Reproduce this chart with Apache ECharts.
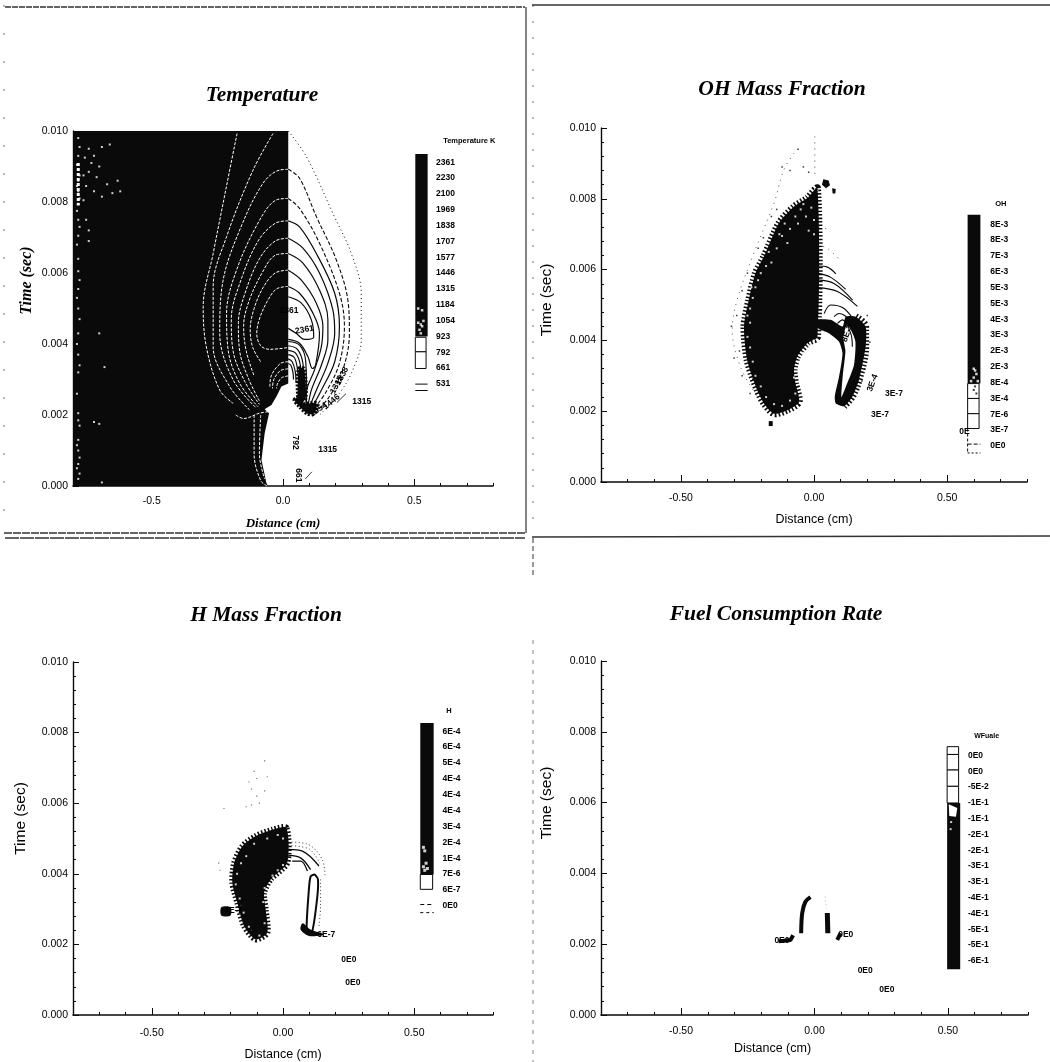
<!DOCTYPE html>
<html><head><meta charset="utf-8">
<style>html,body{margin:0;padding:0;background:#fff}#c{width:1050px;height:1062px;filter:blur(.4px)}</style>
<script src="https://cdn.jsdelivr.net/npm/echarts@6/dist/echarts.min.js"></script>
</head><body><div id="c"></div>
<script>
// ---------- chart text ----------
const titles = ['Temperature','OH Mass Fraction','H Mass Fraction','Fuel Consumption Rate'];
const xMajor = [-0.5,0,0.5];
const xMinor = [-0.8,-0.7,-0.6,-0.4,-0.3,-0.2,-0.1,0.1,0.2,0.3,0.4,0.6,0.7,0.8];
const tempLevels = ['2361','2230','2100','1969','1838','1707','1577','1446','1315','1184','1054','923','792','661','531'];
const ohLevels = ['8E-3','8E-3','7E-3','6E-3','5E-3','5E-3','4E-3','3E-3','2E-3','2E-3','8E-4','3E-4','7E-6','3E-7','0E0'];
const hLevels = ['6E-4','6E-4','5E-4','4E-4','4E-4','4E-4','3E-4','2E-4','1E-4','7E-6','6E-7','0E0'];
const fuelLevels = ['0E0','0E0','-5E-2','-1E-1','-1E-1','-2E-1','-2E-1','-3E-1','-3E-1','-4E-1','-4E-1','-5E-1','-5E-1','-6E-1'];

// ---------- Temperature panel: [distance cm, time ms] ----------
const tempFill = [[-.8,0],[-.8,10],[.02,10],[.02,2.89],[-.006,2.8],[-.025,2.52],[-.044,2.28],[-.07,2.16],[-.053,2.05],[-.07,1.48],[-.082,.73],[-.063,.08],[-.057,0]];
const tempOuter = [[.02,10],[.089,9.28],[.19,7.68],[.26,6.55],[.298,5.43],[.298,4.11],[.266,3.27],[.215,2.61],[.139,2]];
const tempDashed = [
 [[.02,8.92],[.063,8.67],[.127,7.59],[.203,6.37],[.247,5.24],[.253,4.3],[.228,3.27],[.177,2.52],[.127,2.09]],
 [[.02,8.1],[.063,7.82],[.139,6.84],[.215,5.43],[.234,4.49],[.215,3.46],[.165,2.66],[.114,2.14]]
];
const tempSolid = [
 [[.02,7.47],[.063,7.3],[.127,6.55],[.197,5.43],[.215,4.49],[.197,3.5],[.146,2.7],[.108,2.18]],
 [[.02,6.98],[.076,6.7],[.139,6],[.19,4.96],[.197,4.3],[.171,3.46],[.127,2.7],[.101,2.23]],
 [[.02,6.55],[.076,6.28],[.139,5.52],[.171,4.68],[.171,4.11],[.146,3.4],[.108,2.7],[.095,2.23]],
 [[.02,6.08],[.07,5.8],[.127,5.15],[.152,4.49],[.146,3.92],[.12,3.27],[.089,2.61],[.089,2.23]],
 [[.02,5.62],[.063,5.43],[.114,4.87],[.139,4.3],[.124,3.4],[.112,3.31],[.095,3.64],[.063,4.02],[.02,4.13]],
 [[.02,5.33],[.07,5.15],[.108,4.68],[.117,4.2],[.082,4.13],[.05,4.3],[.02,4.44]],
 [[.02,4.07],[.063,3.97],[.086,3.55],[.089,2.89],[.082,2.42]],
 [[.02,3.95],[.055,3.85],[.076,3.45],[.08,2.85],[.076,2.42]],
 [[.02,3.82],[.048,3.74],[.066,3.4],[.07,2.85],[.068,2.45]],
 [[.02,3.7],[.043,3.62],[.055,3.3],[.06,2.85],[.056,2.5]],
 [[.02,3.58],[.035,3.5],[.046,3.25],[.05,2.9]],
 [[.02,3.45],[.03,3.4],[.038,3.2],[.04,3]]
];
const tempWhite = [
 [[-.175,9.93],[-.203,8.9],[-.266,6.55],[-.304,5.05],[-.292,3.92],[-.241,2.7],[-.19,2.33]],
 [[-.038,9.93],[-.114,8.9],[-.215,7.02],[-.266,5.62],[-.266,3.92],[-.203,2.8],[-.127,2.14]],
 [[.02,8.92],[-.013,8.9],[-.076,8.53],[-.165,7.21],[-.228,5.8],[-.241,4.3],[-.19,2.99],[-.101,2.19]],
 [[.02,8.1],[-.025,8.06],[-.089,7.49],[-.177,6.08],[-.215,4.86],[-.209,3.83],[-.165,2.89],[-.095,2.23]],
 [[.02,7.47],[-.03,7.4],[-.095,6.9],[-.165,5.7],[-.197,4.7],[-.19,3.8],[-.146,2.95],[-.09,2.3]],
 [[.02,6.98],[-.03,6.9],[-.09,6.4],[-.146,5.4],[-.17,4.6],[-.165,3.8],[-.13,3],[-.09,2.4]],
 [[.02,6.55],[-.03,6.5],[-.08,6],[-.13,5.2],[-.15,4.5],[-.14,3.8],[-.11,3.1]],
 [[.02,6.08],[-.03,6],[-.075,5.6],[-.11,5],[-.125,4.4],[-.115,3.9],[-.085,3.5]],
 [[.02,5.62],[-.025,5.55],[-.06,5.2],[-.09,4.7],[-.1,4.3],[-.085,3.95],[-.05,3.85],[.02,3.9]],
 [[.02,3.5],[-.01,3.45],[-.045,3.1],[-.05,2.8]],
 [[.02,3.3],[-.01,3.25],[-.035,3],[-.04,2.75]],
 [[.02,3.1],[-.005,3.05],[-.02,2.9],[-.025,2.75]],
 [[-.11,2],[-.11,.9],[-.085,.15],[-.06,0]],
 [[-.085,2],[-.09,.9],[-.07,.2]],
 [[-.18,2],[-.15,1.9],[-.09,2.05],[-.05,2.1]]
];
const tempBlobs = [
 [[.044,2.42],[.063,2.52],[.082,2.33],[.127,2.33],[.12,2.05],[.095,2.03],[.063,2.24]],
 [[.06,3.3],[.08,3.3],[.085,2.45],[.06,2.45]]
];
const tempBand = [[-.78,9.1],[-.78,7.9]];
const tempTicksShort = [[[.205,2.35],[.24,2.6]],[[.085,.2],[.11,.4]]];
const tempSpecks = [[-.78,.2],[-.775,.35],[-.785,.5],[-.78,.62],[-.775,.8],[-.78,1],[-.785,1.15],[-.78,1.3],[-.775,1.7],[-.78,1.85],[-.78,2.05],[-.785,2.6],[-.78,3.2],[-.775,3.4],[-.78,3.7],[-.785,4],[-.78,4.3],[-.775,4.7],[-.78,5],[-.785,5.3],[-.78,5.55],[-.775,5.8],[-.78,6.05],[-.78,6.4],[-.785,6.8],[-.78,7.05],[-.775,7.3],[-.78,7.5],[-.785,7.75],[-.78,7.95],[-.775,8.1],[-.78,8.3],[-.785,8.45],[-.78,8.6],[-.775,8.75],[-.78,8.9],[-.785,9.05],[-.78,9.3],[-.775,9.55],[-.78,9.8],[-.74,9.5],[-.72,9.3],[-.69,9.55],[-.66,9.62],[-.7,9],[-.74,8.85],[-.71,8.7],[-.67,8.5],[-.75,8.45],[-.72,8.3],[-.65,8.25],[-.69,8.15],[-.76,8.05],[-.62,8.3],[-.63,8.6],[-.75,7.5],[-.74,7.2],[-.74,6.9],[-.7,4.3],[-.69,.1],[-.72,1.8],[-.7,1.75],[-.68,3.35],[-.73,9.1],[-.755,9.25],[-.76,8.75]];
const tempLabels = [[.023,4.93,'2361',0],[.082,4.4,'2361',-10],[.3,2.37,'1315',0],[.17,1.03,'1315',0],[.048,1.22,'792',90],[.06,.3,'661',90],[.225,3.1,'1838',-62],[.185,2.37,'1446',-40],[.135,2.15,'1054',-35],[.205,2.85,'1315',-62]];

// ---------- OH panel ----------
const ohFill = [[.013,8.3],[-.025,8.02],[-.075,7.78],[-.132,7.31],[-.188,6.37],[-.22,5.9],[-.245,5.14],[-.263,4.39],[-.251,3.44],[-.213,2.59],[-.188,2.22],[-.15,1.93],[-.1,2.03],[-.056,2.26],[-.069,2.78],[-.075,3.16],[-.063,3.54],[-.025,3.92],[.013,4.1]];
const ohBand = [[.157,4.67],[.194,4.39],[.194,3.82],[.169,2.88],[.144,2.41],[.113,2.14],[.082,2.22],[.078,2.41],[.094,2.97],[.107,3.63],[.094,3.96],[.056,4.2],[.015,4.34],[.015,4.58],[.063,4.58],[.107,4.39],[.119,4.67]];
const ohBandEdge = [[.157,4.67],[.194,4.39],[.194,3.82],[.169,2.88],[.144,2.41],[.113,2.14]];
const ohCrescent = [[.125,4.45],[.155,4],[.15,3.3],[.12,2.7],[.103,2.4],[.108,3],[.118,3.7],[.11,4.1]];
const ohArcs = [
 [[.013,6.1],[.05,6.07],[.082,5.88]],
 [[.013,5.9],[.063,5.78],[.119,5.44]],
 [[.013,5.71],[.075,5.61],[.145,5.14]],
 [[.013,5.49],[.088,5.38],[.163,4.96]],
 [[.038,4.76],[.063,5],[.113,4.9],[.157,4.48]],
 [[.075,4.67],[.094,4.76],[.132,4.58],[.157,4]],
 [[.088,4.48],[.107,4.58],[.138,4.2],[.144,3.82]]
];
const ohDotted = [
 [[.013,6.7],[.05,6.6],[.094,6.3]],
 [[.02,7.2],[.05,7.15]],
 [[.003,9.76],[.003,8.6]],
 [[-.075,9.29],[-.113,8.82],[-.15,7.88],[-.226,6.46],[-.289,5.14],[-.307,4.29],[-.276,3.25],[-.213,2.41]]
];
const ohBlobs = [[[.035,8.55],[.055,8.52],[.06,8.38],[.045,8.3],[.03,8.4]],[[.068,8.3],[.082,8.28],[.08,8.15],[.07,8.15]],[[-.17,1.72],[-.155,1.72],[-.155,1.58],[-.17,1.58]]];
const ohSpecks = [[-.05,7.7],[-.03,7.5],[-.01,7.75],[0,7.4],[-.06,7.3],[-.09,7.15],[-.12,6.95],[-.1,6.75],[-.14,6.6],[-.16,6.2],[-.18,6.1],[-.2,5.9],[-.22,5.5],[-.23,5.2],[-.24,4.9],[-.24,4.5],[-.25,4.1],[-.24,3.8],[-.23,3.4],[-.22,3],[-.2,2.7],[-.18,2.4],[-.15,2.2],[-.12,2.15],[-.09,2.3],[-.07,2.5],[-.075,2.95],[-.06,3.4],[-.04,3.65],[-.02,3.85],[0,4],[0,7],[-.02,7.1],[-.04,7.85],[-.07,7.5],[-.11,7.3],[-.13,7],[-.17,6.5],[-.2,6.3],[-.21,5.7],[-.235,5.5],[-.25,4.7]];
const ohHaze = [[-.12,8.9],[-.09,8.8],[-.06,9.4],[-.04,8.9],[-.02,8.75],[-.16,7.5],[-.14,7.7],[-.19,6.9],[-.21,6.6],[-.25,5.9],[-.27,5.4],[-.29,4.7],[-.31,4.4],[-.28,3.7],[-.27,3],[-.23,2.9],[-.24,2.5],[.2,4.7],[.21,3.95],[.19,3.2],[.18,2.85],[-.3,3.5]];
const ohLabels = [[.3,2.5,'3E-7',0],[.248,1.9,'3E-7',0],[.22,2.8,'3E-4',-70],[.125,4.2,'8E-3',-70],[.565,1.42,'0E',0]];

// ---------- H panel ----------
const hFill = [[.013,5.3],[-.04,5.25],[-.104,5.07],[-.155,4.78],[-.186,4.31],[-.193,3.75],[-.174,3.18],[-.148,2.52],[-.104,2.14],[-.06,2.33],[-.066,2.99],[-.072,3.46],[-.047,3.84],[.016,4.31]];
const hLoop = [[.09,2.33],[.098,3.5],[.105,3.92],[.12,3.98],[.133,3.85],[.13,3.3],[.11,2.33]];
const hBlobs = [[[.067,2.42],[.099,2.24],[.156,2.28],[.105,2.42],[.075,2.6]],[[-.235,3.05],[-.2,3.05],[-.2,2.82],[-.235,2.82]]];
const hArcs = [[[.02,4.69],[.074,4.64],[.137,4.22]],[[.02,4.52],[.067,4.45],[.105,4.12]],[[.035,4.36],[.067,4.36],[.093,4.08]]];
const hDotted = [[[.02,4.9],[.09,4.85],[.15,4.4],[.16,3.9]],[[.143,3.84],[.143,3.08],[.137,2.52]],[[.02,4.8],[.1,4.7],[.14,4.3]]];
const hSpecks = [[-.02,5.1],[0,5],[-.06,5],[-.11,4.85],[-.14,4.5],[-.16,4.3],[-.175,4],[-.18,3.7],[-.165,3.3],[-.15,2.9],[-.13,2.5],[-.09,2.25],[-.07,2.6],[-.075,3.2],[-.07,3.6],[-.04,3.95],[-.02,4.1],[0,4.25]];
const hHaze = [[-.07,7.2],[-.11,6.9],[-.13,6.6],[-.12,6.4],[-.1,6.7],[-.06,6.75],[-.1,6.2],[-.09,6],[-.12,5.95],[-.225,5.85],[-.245,4.3],[-.24,4.1],[-.14,5.9],[-.07,6.35],[-.16,3.1],[-.12,2.4]];
const hLabels = [[-.19,2.95,'6E-7',0],[.165,2.28,'6E-7',0],[.251,1.56,'0E0',0],[.266,.92,'0E0',0]];

// ---------- Fuel panel ----------
const fuelLeftArc = [[-.05,2.31],[-.046,2.88],[-.034,3.2],[-.015,3.33]];
const fuelRightBar = [[.048,2.88],[.05,2.31]];
const fuelWings = [[[.085,2.12],[.098,2.31]],[[-.135,2.08],[-.09,2.12],[-.08,2.25]]];
const fuelFaint = [[.04,3.35],[.045,3.0]];
const fuelLabels = [[-.122,2.1,'0E0',0],[.117,2.28,'0E0',0],[.19,1.25,'0E0',0],[.271,.71,'0E0',0]];

// ---------- helpers ----------
const INK = '#0a0a0a';
let zc = 2;
const series = [];
const toT = p => [p[0], p[1]/1000];
function line(g, pts, color, width, dash, smooth){
  series.push({type:'line',xAxisIndex:g*2,yAxisIndex:g,data:pts.map(toT),symbol:'none',smooth:smooth===undefined?.35:smooth,
    lineStyle:{color:color,width:width,type:dash||'solid'},silent:true,animation:false,z:zc++});
}
function area(g, pts, fill, stroke, lw, dash, smooth){
  const d = pts.map(toT);
  series.push({type:'custom',coordinateSystem:'cartesian2d',xAxisIndex:g*2,yAxisIndex:g,data:d,silent:true,animation:false,z:zc++,
    renderItem:(p,api)=>p.dataIndex? null : {type:'polygon',shape:{points:d.map(q=>api.coord(q)),smooth:smooth||0},
      style:{fill:fill,stroke:stroke||null,lineWidth:lw||0,lineDash:dash||null}}});
}
function dots(g, pts, color, size){
  series.push({type:'scatter',xAxisIndex:g*2,yAxisIndex:g,data:pts.map(toT),symbol:'rect',symbolSize:size,itemStyle:{color:color},silent:true,animation:false,z:zc++});
}
function texts(g, rows, font, align){
  const d = rows.map(r=>[r[0],r[1]/1000]);
  series.push({type:'custom',coordinateSystem:'cartesian2d',xAxisIndex:g*2,yAxisIndex:g,data:d,silent:true,animation:false,z:zc+200,
    renderItem:(p,api)=>{const r=rows[p.dataIndex],c=api.coord(d[p.dataIndex]);
      return {type:'text',x:c[0],y:c[1],rotation:-(r[3]||0)*Math.PI/180,
        style:{text:r[2],font:font,fill:'#000',align:align||'center',verticalAlign:'middle'}};}});
}
// level labels down the colour bar: first row + fixed spacing on the page
function levelRows(levels,x,t0,step){return levels.map((s,i)=>[x,t0-i*step,s,0]);}
const smallFont = 'bold 8.5px "Liberation Sans"';

// ---------- Temperature ----------
area(0,tempFill,INK);
dots(0,tempSpecks,'#fff',2);
line(0,tempBand,'#fff',3,[3,2],false);
tempWhite.forEach(c=>line(0,c,'#fff',1,[3,1.5]));
line(0,tempOuter,INK,1,[1,3]);
tempDashed.forEach(c=>line(0,c,INK,1.1,[4,2]));
tempSolid.forEach(c=>line(0,c,INK,1.2));
tempBlobs.forEach(c=>area(0,c,INK,INK,4,[2,1.5],.3));
tempTicksShort.forEach(c=>line(0,c,INK,.8,null,false));
texts(0,tempLabels,smallFont);
area(0,[[.504,9.35],[.551,9.35],[.551,4.21],[.504,4.21]],INK);
dots(0,[[.515,4.6],[.525,4.55],[.52,4.4],[.53,4.5],[.525,4.3],[.535,4.65],[.515,5],[.53,4.95]],'#fff',2.5);
area(0,[[.504,4.19],[.545,4.19],[.545,3.78],[.504,3.78]],'#fff',INK,1);
area(0,[[.504,3.78],[.545,3.78],[.545,3.31],[.504,3.31]],'#fff',INK,1);
line(0,[[.504,2.87],[.551,2.87]],INK,1,null,false);
line(0,[[.504,2.69],[.551,2.69]],INK,1,null,false);
texts(0,levelRows(tempLevels,.583,9.12,.446),smallFont,'left');
texts(0,[[.61,9.72,'Temperature K',0]],'bold 7.5px "Liberation Sans"','left');

// ---------- OH ----------
area(1,ohFill,INK,INK,7,[1.5,2],.25);
dots(1,ohSpecks,'#fff',2);
dots(1,ohHaze,INK,1.5);
area(1,ohBand,INK,null,0,null,.2);
line(1,ohBandEdge,INK,7,[1.5,2]);
area(1,ohCrescent,'#fff',null,0,null,.2);
ohArcs.forEach(c=>line(1,c,INK,1.1));
ohDotted.forEach(c=>line(1,c,INK,.7,[1,5]));
ohBlobs.forEach(c=>area(1,c,INK));
texts(1,ohLabels,smallFont);
area(1,[[.577,7.55],[.625,7.55],[.625,2.78],[.577,2.78]],INK);
dots(1,[[.6,3.2],[.605,3.15],[.61,3.05],[.6,2.95],[.59,2.85],[.615,2.85]],'#fff',2.5);
area(1,[[.577,2.78],[.62,2.78],[.62,2.36],[.577,2.36]],'#fff',INK,1);
dots(1,[[.6,2.6],[.61,2.5],[.605,2.7]],INK,2);
area(1,[[.577,2.36],[.62,2.36],[.62,1.93],[.577,1.93]],'#fff',INK,1);
area(1,[[.577,1.93],[.62,1.93],[.62,1.51],[.577,1.51]],'#fff',INK,1);
line(1,[[.577,1.07],[.625,1.07]],INK,1,[4,2],false);
line(1,[[.577,.82],[.625,.82]],INK,1,[2,2],false);
line(1,[[.577,1.51],[.577,.82]],INK,1,[3,2],false);
texts(1,levelRows(ohLevels,.662,7.28,.447),smallFont,'left');
texts(1,[[.702,7.85,'OH',0]],'bold 7.5px "Liberation Sans"');

// ---------- H ----------
area(2,hFill,INK,INK,6,[1.5,2],.25);
dots(2,hSpecks,'#fff',2);
dots(2,hHaze,'#555',1.2);
area(2,hLoop,'#fff',INK,2,null,.2);
hBlobs.forEach(c=>area(2,c,INK,null,0,null,.3));
hArcs.forEach(c=>line(2,c,INK,1.3));
hDotted.forEach(c=>line(2,c,INK,.8,[1,2.5]));
texts(2,hLabels,smallFont);
area(2,[[.523,8.27],[.574,8.27],[.574,3.98],[.523,3.98]],INK);
dots(2,[[.535,4.75],[.54,4.65],[.535,4.2],[.545,4.3],[.54,4.1],[.55,4.15]],'#fff',3);
area(2,[[.523,3.98],[.57,3.98],[.57,3.56],[.523,3.56]],'#fff',INK,1);
line(2,[[.523,3.13],[.574,3.13]],INK,1,[4,3],false);
line(2,[[.523,2.9],[.574,2.9]],INK,1,[3,3],false);
texts(2,levelRows(hLevels,.608,8.04,.45),smallFont,'left');
texts(2,[[.632,8.6,'H',0]],'bold 7.5px "Liberation Sans"');

// ---------- Fuel ----------
line(3,fuelLeftArc,INK,4);
line(3,fuelRightBar,INK,5,null,false);
fuelWings.forEach(c=>line(3,c,INK,4,null,false));
line(3,fuelFaint,'#bbb',1,[1,3],false);
texts(3,fuelLabels,smallFont);
area(3,[[.497,1.29],[.546,1.29],[.546,5.99],[.497,5.99]],INK);
area(3,[[.503,5.95],[.535,5.85],[.53,5.6],[.505,5.62]],'#fff');
dots(3,[[.512,5.45],[.51,5.25]],'#fff',2);
area(3,[[.497,7.58],[.54,7.58],[.54,7.36],[.497,7.36]],'#fff',INK,1);
area(3,[[.497,7.36],[.54,7.36],[.54,6.92],[.497,6.92]],'#fff',INK,1);
area(3,[[.497,6.92],[.54,6.92],[.54,6.46],[.497,6.46]],'#fff',INK,1);
area(3,[[.497,6.46],[.54,6.46],[.54,5.99],[.497,5.99]],'#fff',INK,1);
texts(3,levelRows(fuelLevels,.575,7.33,.446),smallFont,'left');
texts(3,[[.645,7.87,'WFuale',0]],'bold 7px "Liberation Sans"');

// ---------- axes ----------
const grids = [
 {left:73,top:131,width:420,height:355},
 {left:601,top:128,width:426,height:354},
 {left:73,top:662,width:420,height:354},
 {left:601,top:661,width:427,height:354}
];
const serifName = {fontFamily:'"Liberation Serif"',fontStyle:'italic',fontWeight:'bold',fontSize:13,color:'#000'};
const sansName = {fontFamily:'"Liberation Sans"',fontSize:12.5,color:'#000'};
const tickFont = {fontFamily:'"Liberation Sans"',fontSize:10.5,color:'#000'};
const xAxis = [], yAxis = [];
const xNameGap = [31,31,33,27], yNameGap = [38,46,44,46], xLabelMargin = [10,11,13,11];
const xNameShift = [0,0,0,84], yNameShift = [56,10,40,70];
grids.forEach((g,i)=>{
  const nm = i===0?serifName:sansName;
  xAxis.push({type:'value',gridIndex:i,position:'bottom',min:-.8,max:.8,name:'Distance (cm)',nameLocation:'middle',nameGap:xNameGap[i],
    nameTextStyle:Object.assign({},nm,{padding:[0,xNameShift[i],0,0]}),
    axisLine:{show:true,onZero:false,lineStyle:{color:INK,width:1.6}},
    axisTick:{show:true,inside:true,length:7,lineStyle:{color:INK,width:1},customValues:xMajor},
    axisLabel:{show:true,customValues:xMajor,margin:xLabelMargin[i],formatter:v=>(+v).toFixed(i===0?1:2),...tickFont},
    splitLine:{show:false}});
  xAxis.push({type:'value',gridIndex:i,position:'bottom',min:-.8,max:.8,
    axisLine:{show:false,onZero:false},
    axisTick:{show:true,inside:true,length:3,lineStyle:{color:INK,width:1},customValues:xMinor},
    axisLabel:{show:false},splitLine:{show:false}});
  yAxis.push({type:'value',gridIndex:i,min:0,max:.01,interval:.002,name:'Time (sec)',nameLocation:'middle',nameGap:yNameGap[i],
    nameTextStyle:Object.assign({},nm,{fontSize:i===0?16:15.5,padding:[0,0,0,yNameShift[i]]}),
    axisLine:{show:true,onZero:false,lineStyle:{color:INK,width:1.4}},
    axisTick:{show:true,inside:true,length:6,lineStyle:{color:INK,width:1}},
    minorTick:{show:true,splitNumber:5,length:3,lineStyle:{color:INK,width:1}},
    axisLabel:{show:true,margin:5,formatter:v=>(+v).toFixed(3),...tickFont},
    splitLine:{show:false},minorSplitLine:{show:false}});
});
const titleFont = {fontFamily:'"Liberation Serif"',fontStyle:'italic',fontWeight:'bold',fontSize:21.5,color:'#000'};
const title = [[262,84],[782,78],[266,604],[776,603]].map((p,i)=>({text:titles[i],left:p[0],top:p[1],textAlign:'center',textStyle:titleFont,padding:0}));

// ---------- scan frame ----------
const frame = [[5,7,525,7,1.5,[6,1]],[532,5,1050,5,1.5,null],[526,7,526,533,1.2,null],[4,533,525,533,1.5,[8,1]],[5,538,525,538,1.6,[14,1]],[532,537,1050,536,1.6,null],[533,538,533,575,1,[5,3]],[533,5,533,530,.7,[2,14]],[533,640,533,1062,.6,[4,6]],[4,5,4,530,.7,[2,26]]];
const graphic = frame.map(f=>({type:'line',silent:true,shape:{x1:f[0],y1:f[1],x2:f[2],y2:f[3]},style:{stroke:'#333',lineWidth:f[4],lineDash:f[5]}}));

echarts.init(document.getElementById('c'),null,{renderer:'canvas'}).setOption({
  animation:false,backgroundColor:'#fff',title,grid:grids,xAxis,yAxis,series,graphic,tooltip:{show:false}
});
</script></body></html>
